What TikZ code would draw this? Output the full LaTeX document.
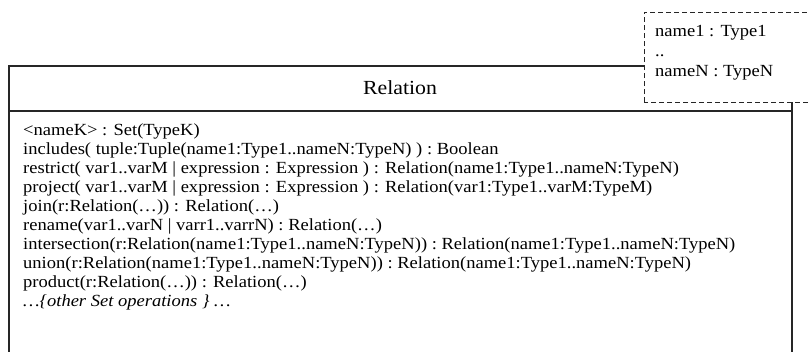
\documentclass[tikz,border=0pt]{standalone}
\usepackage{fontspec}
\setmainfont[FakeStretch=1.09]{Liberation Serif}
\usepackage{tikz}
\usetikzlibrary{positioning}

\tikzset{
  classline/.style={draw=black!85, line width=1.3pt},
  parambox/.style={draw=black!85, dash pattern=on 5pt off 3pt, line width=1pt, fill=white},
  optext/.style={anchor=north west, inner sep=0pt, align=left, font=\fontsize{17}{19}\selectfont}
}

\begin{document}
\begin{tikzpicture}[x=1pt, y=-1pt]
\useasboundingbox (0,0) rectangle (809,351);
\clip (0,0) rectangle (809,351);

% class box, cut off at the bottom
\draw[classline] (9,400) -- (9,66) -- (700,66);
\draw[classline] (9,111) -- (792,111);
\draw[classline] (792,100) -- (792,400);

\node (title) at (400,88) {\fontsize{20}{22}\selectfont Relation};

\node[optext] (ops) at (23,124) {%
<nameK> : Set(TypeK)\\
includes( tuple:Tuple(name1:Type1..nameN:TypeN) ) : Boolean\\
restrict( var1..varM | expression : Expression ) : Relation(name1:Type1..nameN:TypeN)\\
project( var1..varM | expression : Expression ) : Relation(var1:Type1..varM:TypeM)\\
join(r:Relation(…)) : Relation(…)\\
rename(var1..varN | varr1..varrN) : Relation(…)\\
intersection(r:Relation(name1:Type1..nameN:TypeN)) : Relation(name1:Type1..nameN:TypeN)\\
union(r:Relation(name1:Type1..nameN:TypeN)) : Relation(name1:Type1..nameN:TypeN)\\
product(r:Relation(…)) : Relation(…)\\
\textit{…\{other Set operations \} …}};

% template parameters
\draw[parambox] (644,102) -- (644,12) -- (820,12) -- (820,102) -- cycle;
\node[optext, font=\fontsize{17}{20}\selectfont] (params) at (655,25) {%
name1 : Type1\\
..\\
nameN : TypeN};

\end{tikzpicture}
\end{document}
